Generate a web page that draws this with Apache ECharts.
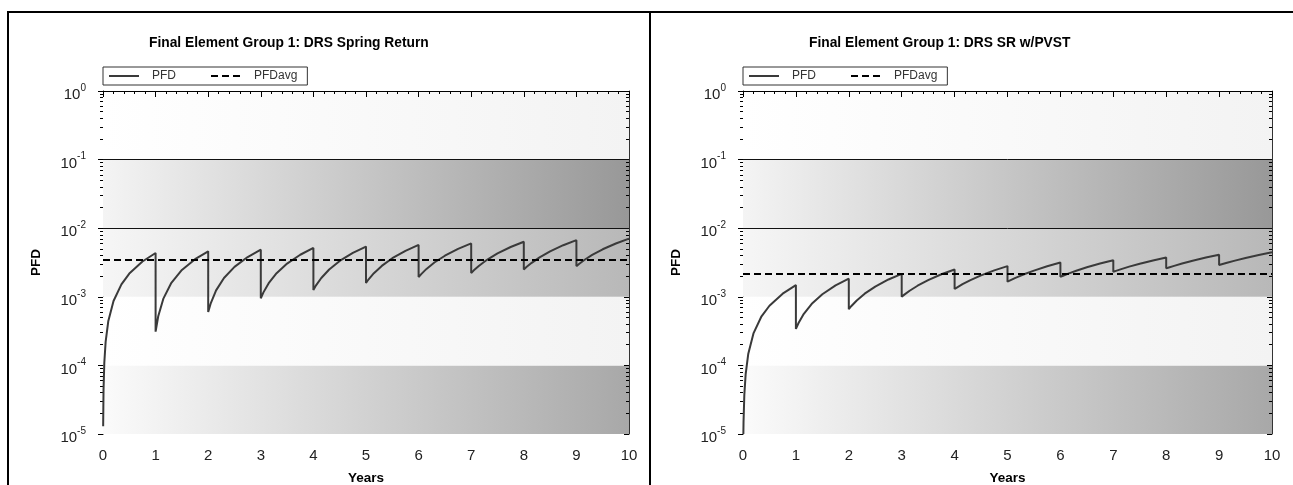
<!DOCTYPE html>
<html><head><meta charset="utf-8">
<script src="https://cdn.jsdelivr.net/npm/echarts@6/dist/echarts.min.js"></script>
<style>
html,body{margin:0;padding:0;background:#fff;}
#frame{position:absolute;left:7px;top:11px;width:1286px;height:474px;border-top:2px solid #000;border-left:2px solid #000;box-sizing:border-box;}
#divider{position:absolute;left:649px;top:11px;width:2px;height:474px;background:#000;}
#chart{position:absolute;left:0;top:0;width:1293px;height:485px;}
</style></head><body>
<div id="frame"></div><div id="divider"></div><div id="chart"></div>
<script>
// ---------------- data ----------------
const chartTitles = ['Final Element Group 1: DRS Spring Return', 'Final Element Group 1: DRS SR w/PVST'];
const seriesNames = ['PFD', 'PFDavg'];
const xTicks = [0,1,2,3,4,5,6,7,8,9,10];
const yTicks = [1e-5, 1e-4, 1e-3, 1e-2, 1e-1, 1];
const yMinorTicks = [
  2e-5,3e-5,4e-5,5e-5,6e-5,7e-5,8e-5,9e-5,
  2e-4,3e-4,4e-4,5e-4,6e-4,7e-4,8e-4,9e-4,
  2e-3,3e-3,4e-3,5e-3,6e-3,7e-3,8e-3,9e-3,
  2e-2,3e-2,4e-2,5e-2,6e-2,7e-2,8e-2,9e-2,
  2e-1,3e-1,4e-1,5e-1,6e-1,7e-1,8e-1,9e-1
];
const bandBounds = [[1e-5,1e-4],[1e-4,1e-3],[1e-3,1e-2],[1e-2,1e-1]];
const topBand = [1e-1, 1];
const decadeLines = [1e-4, 1e-3, 1e-2, 1e-1];

// Spring Return: [years, PFD]
const leftPFD = [
  [0.003,1.3e-5],[0.01,4.4e-5],[0.025,1.1e-4],[0.05,2.2e-4],[0.1,4.4e-4],[0.2,8.7e-4],[0.35,1.52e-3],[0.5,2.18e-3],[0.75,3.27e-3],[1,4.35e-3],
  [1,3.1e-4],[1.05,5.2e-4],[1.15,9.5e-4],[1.3,1.6e-3],[1.5,2.46e-3],[1.75,3.53e-3],[2,4.6e-3],
  [2,6.0e-4],[2.05,8.1e-4],[2.15,1.24e-3],[2.3,1.88e-3],[2.5,2.73e-3],[2.75,3.8e-3],[3,4.86e-3],
  [3,9.5e-4],[3.05,1.16e-3],[3.15,1.58e-3],[3.3,2.21e-3],[3.5,3.05e-3],[3.75,4.1e-3],[4,5.15e-3],
  [4,1.26e-3],[4.05,1.47e-3],[4.15,1.88e-3],[4.3,2.5e-3],[4.5,3.33e-3],[4.75,4.37e-3],[5,5.4e-3],
  [5,1.59e-3],[5.05,1.8e-3],[5.15,2.21e-3],[5.3,2.82e-3],[5.5,3.65e-3],[5.75,4.67e-3],[6,5.7e-3],
  [6,1.94e-3],[6.05,2.14e-3],[6.15,2.55e-3],[6.3,3.16e-3],[6.5,3.97e-3],[6.75,4.99e-3],[7,6.0e-3],
  [7,2.22e-3],[7.05,2.43e-3],[7.15,2.84e-3],[7.3,3.46e-3],[7.5,4.29e-3],[7.75,5.32e-3],[8,6.35e-3],
  [8,2.5e-3],[8.05,2.71e-3],[8.15,3.13e-3],[8.3,3.76e-3],[8.5,4.6e-3],[8.75,5.65e-3],[9,6.7e-3],
  [9,2.8e-3],[9.05,3.01e-3],[9.15,3.44e-3],[9.3,4.08e-3],[9.5,4.93e-3],[9.75,5.99e-3],[10,7.05e-3]
];
const leftPFDavg = [[0,3.45e-3],[10,3.45e-3]];

// SR w/PVST: [years, PFD]
const rightPFD = [
  [0.007,1.0e-5],[0.01,1.5e-5],[0.025,3.7e-5],[0.05,7.4e-5],[0.1,1.48e-4],[0.2,2.96e-4],[0.35,5.2e-4],[0.5,7.4e-4],[0.75,1.11e-3],[1,1.48e-3],
  [1,3.4e-4],[1.05,4.15e-4],[1.15,5.65e-4],[1.3,7.9e-4],[1.5,1.09e-3],[1.75,1.47e-3],[2,1.84e-3],
  [2,6.6e-4],[2.05,7.35e-4],[2.15,8.85e-4],[2.3,1.11e-3],[2.5,1.41e-3],[2.75,1.79e-3],[3,2.16e-3],
  [3,1.0e-3],[3.05,1.075e-3],[3.15,1.225e-3],[3.3,1.45e-3],[3.5,1.75e-3],[3.75,2.13e-3],[4,2.5e-3],
  [4,1.3e-3],[4.05,1.375e-3],[4.15,1.525e-3],[4.3,1.75e-3],[4.5,2.05e-3],[4.75,2.43e-3],[5,2.8e-3],
  [5,1.66e-3],[5.05,1.735e-3],[5.15,1.885e-3],[5.3,2.11e-3],[5.5,2.41e-3],[5.75,2.79e-3],[6,3.16e-3],
  [6,1.96e-3],[6.05,2.03e-3],[6.15,2.18e-3],[6.3,2.4e-3],[6.5,2.69e-3],[6.75,3.05e-3],[7,3.41e-3],
  [7,2.32e-3],[7.05,2.39e-3],[7.15,2.53e-3],[7.3,2.75e-3],[7.5,3.04e-3],[7.75,3.39e-3],[8,3.75e-3],
  [8,2.6e-3],[8.05,2.675e-3],[8.15,2.825e-3],[8.3,3.05e-3],[8.5,3.35e-3],[8.75,3.73e-3],[9,4.1e-3],
  [9,2.91e-3],[9.05,2.99e-3],[9.15,3.14e-3],[9.3,3.37e-3],[9.5,3.68e-3],[9.75,4.07e-3],[10,4.45e-3]
];
const rightPFDavg = [[0,2.15e-3],[10,2.15e-3]];

// ---------------- styling / layout ----------------
const F = '"Liberation Sans", Arial, Helvetica, sans-serif';
const bandColors = [['#fbfbfb','#a8a8a8'],['#ffffff','#f3f3f3'],['#f6f6f6','#b8b8b8'],['#f4f4f4','#989898']];
const topBandColors = ['#ffffff','#f3f3f3'];
const grids = [
  {left:103, top:91, width:526, height:343, outerBoundsMode:'none', containLabel:false},
  {left:743, top:91, width:529, height:343, outerBoundsMode:'none', containLabel:false}
];
const titleLeft = [149, 809];

function grad(c){ return {type:'linear',x:0,y:0,x2:1,y2:0,colorStops:[{offset:0,color:c[0]},{offset:1,color:c[1]}]}; }
const minorLog = yMinorTicks.map(v => Math.log10(v));

const xAxes = [], yAxes = [], series = [], legends = [], titles = [];
[0,1].forEach(g => {
  const xi = g*2, yi = g*4;
  titles.push({text: chartTitles[g], left: titleLeft[g], top: 36, padding: 0,
    textStyle:{fontSize:13.8, fontWeight:'bold', color:'#000', fontFamily:F}});
  legends.push({left: grids[g].left, top: 67, data: seriesNames, selectedMode:false,
    itemWidth:30, itemHeight:10, itemGap:34, padding:[3,10,3,5],
    borderColor:'#333', borderWidth:1, backgroundColor:'#fff',
    itemStyle:{opacity:0},
    textStyle:{fontSize:12, color:'#333', fontFamily:F, padding:[0,0,0,8]}});
  xAxes.push({gridIndex:g, type:'value', position:'bottom', min:0, max:10, interval:1, z:3,
    axisLine:{lineStyle:{color:'#000', width:1}},
    axisTick:{length:6, lineStyle:{color:'#000'}},
    minorTick:{show:true, splitNumber:5, length:3, lineStyle:{color:'#000'}},
    splitLine:{show:false},
    axisLabel:{margin:14, fontSize:15, color:'#222', fontFamily:F},
    name:'Years', nameLocation:'middle', nameGap:37,
    nameTextStyle:{fontSize:13.5, fontWeight:'bold', color:'#000', fontFamily:F}});
  xAxes.push({gridIndex:g, type:'value', position:'top', min:0, max:10, interval:1, z:3,
    axisLine:{lineStyle:{color:'#000', width:1}},
    axisTick:{inside:true, length:5, lineStyle:{color:'#000'}},
    minorTick:{show:true, splitNumber:5, length:3, lineStyle:{color:'#000'}},
    splitLine:{show:false}, axisLabel:{show:false}});
  yAxes.push({gridIndex:g, type:'log', logBase:10, min:yTicks[0], max:yTicks[yTicks.length-1], position:'left', splitNumber:5,
    axisLine:{show:true, lineStyle:{color:'#000', width:1}},
    axisTick:{length:5, lineStyle:{color:'#000'}},
    splitLine:{show:false},
    axisLabel:{margin:17, padding:[8,0,0,0],
      formatter: v => '{b|10}{s|' + Math.round(Math.log10(v)) + '}',
      rich:{ b:{fontSize:15, lineHeight:24, verticalAlign:'middle', color:'#222', fontFamily:F},
             s:{fontSize:10, lineHeight:10, verticalAlign:'top', color:'#222', fontFamily:F} }},
    name:'PFD', nameLocation:'middle', nameGap:60, nameRotate:90,
    nameTextStyle:{fontSize:13.5, fontWeight:'bold', color:'#000', fontFamily:F}});
  yAxes.push({gridIndex:g, type:'value', min:-5, max:0, position:'left',
    axisLine:{show:false}, axisLabel:{show:false}, splitLine:{show:false},
    axisTick:{show:true, customValues:minorLog, length:3, lineStyle:{color:'#000'}}});
  yAxes.push({gridIndex:g, type:'value', min:-5, max:0, interval:1, position:'right', z:3,
    axisLine:{show:true, lineStyle:{color:'#333', width:1}}, axisLabel:{show:false}, splitLine:{show:false},
    axisTick:{show:true, inside:true, length:5, lineStyle:{color:'#000'}}});
  yAxes.push({gridIndex:g, type:'value', min:-5, max:0, position:'right', z:3,
    axisLine:{show:false}, axisLabel:{show:false}, splitLine:{show:false},
    axisTick:{show:true, inside:true, customValues:minorLog, length:3, lineStyle:{color:'#000'}}});

  series.push({name:'topband'+g, type:'line', xAxisIndex:xi, yAxisIndex:yi, data:[], z:-1, silent:true,
    markArea:{silent:true, data:[[{yAxis:topBand[0], itemStyle:{color:grad(topBandColors), opacity:1}},{yAxis:topBand[1]}]]}});
  series.push({name:'bands'+g, type:'line', xAxisIndex:xi, yAxisIndex:yi, data:[], z:1, silent:true,
    markArea:{silent:true, data: bandBounds.map((b,i) => [{yAxis:b[0], itemStyle:{color:grad(bandColors[i]), opacity:1}},{yAxis:b[1]}])}});
  series.push({name:'decades'+g, type:'line', xAxisIndex:xi, yAxisIndex:yi, data:[], z:2, silent:true,
    markLine:{silent:true, symbol:'none', label:{show:false}, lineStyle:{color:'#111', width:1, type:'solid'},
      data: decadeLines.map(v => ({yAxis:v}))}});
  series.push({name:'PFD', type:'line', xAxisIndex:xi, yAxisIndex:yi, data: g===0 ? leftPFD : rightPFD, z:4,
    symbol:'none', showSymbol:false, lineStyle:{color:'#3a3a3a', width:2}, itemStyle:{color:'#3a3a3a'}});
  series.push({name:'PFDavg', type:'line', xAxisIndex:xi, yAxisIndex:yi, data: g===0 ? leftPFDavg : rightPFDavg, z:4,
    symbol:'none', showSymbol:false, lineStyle:{color:'#000', width:2, type:[7,4]}, itemStyle:{color:'#000'}});
});

const chart = echarts.init(document.getElementById('chart'), null, {renderer:'canvas'});
chart.setOption({
  animation:false,
  title: titles,
  legend: legends,
  grid: grids,
  xAxis: xAxes,
  yAxis: yAxes,
  series: series
});
</script></body></html>
